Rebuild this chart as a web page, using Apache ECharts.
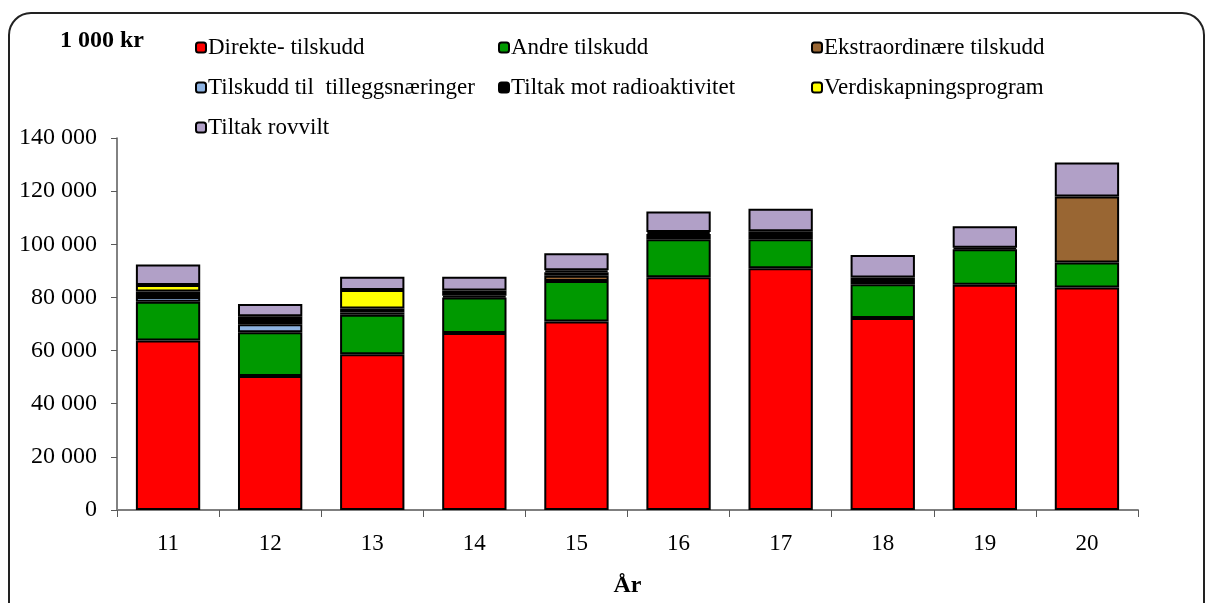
<!DOCTYPE html>
<html>
<head>
<meta charset="utf-8">
<script src="https://cdn.jsdelivr.net/npm/echarts@6/dist/echarts.min.js"></script>
<style>
  html, body { margin: 0; padding: 0; background: #fff; }
  #chart { width: 1209px; height: 603px; }
</style>
</head>
<body>
<div id="chart"></div>
<script>
// years (x axis)
const years = ['11', '12', '13', '14', '15', '16', '17', '18', '19', '20']

// values in 1 000 kr; null = no segment
const direkte      = [63800, 50400, 58600, 66600, 70900, 87600, 91000, 72300, 84800, 83700]
const andre        = [14600, 16500, 14900, 13400, 15300, 14300, 10900, 12700, 13300, 9400]
const ekstra       = [null, null, null, null, 2000, null, null, null, null, 24900]
const tillegg      = [1800, 3000, 800, 600, 1300, null, null, null, null, null]
const radio        = [2000, 3000, 1500, 2000, 700, 2000, 3000, 2500, 600, null]
const verdi        = [2500, null, 7000, null, null, 700, null, null, null, null]
const rovvilt      = [7700, 4600, 5000, 5200, 6400, 7700, 8500, 8500, 8100, 12800]

const yTicks = [0, 20000, 40000, 60000, 80000, 100000, 120000, 140000]

const font = '"Liberation Serif", "DejaVu Serif", serif'

function mk(name, data, color) {
  return {
    name: name,
    type: 'bar',
    stack: 'tot',
    data: data,
    barWidth: '63%',
    itemStyle: { color: color, borderColor: '#000', borderWidth: 2 },
    emphasis: { disabled: true }
  }
}

const legendText = { fontFamily: font, fontSize: 23, color: '#000', padding: [0, 0, 0, -3] }

const chart = echarts.init(document.getElementById('chart'))
chart.setOption({
  animation: false,
  backgroundColor: '#fff',
  textStyle: { fontFamily: font, color: '#000' },
  graphic: [
    {
      type: 'rect',
      shape: { x: 9, y: 13, width: 1195, height: 620, r: 22 },
      style: { fill: 'none', stroke: '#222', lineWidth: 2 }
    },
    {
      type: 'text',
      left: 60, top: 29,
      style: { text: '1 000 kr', font: 'bold 24px ' + font, fill: '#000' }
    }
  ],
  legend: [
    {
      orient: 'vertical', left: 190, top: 31, itemGap: 17,
      itemWidth: 10, itemHeight: 10,
      data: ['Direkte- tilskudd', 'Tilskudd til  tilleggsnæringer', 'Tiltak rovvilt'],
      textStyle: legendText
    },
    {
      orient: 'vertical', left: 493, top: 31, itemGap: 17,
      itemWidth: 10, itemHeight: 10,
      data: ['Andre tilskudd', 'Tiltak mot radioaktivitet'],
      textStyle: legendText
    },
    {
      orient: 'vertical', left: 806, top: 31, itemGap: 17,
      itemWidth: 10, itemHeight: 10,
      data: ['Ekstraordinære tilskudd', 'Verdiskapningsprogram'],
      textStyle: legendText
    }
  ],
  grid: { left: 117, right: 71, top: 138, bottom: 89, containLabel: false },
  xAxis: {
    type: 'category',
    data: years,
    name: 'År',
    nameLocation: 'middle',
    nameGap: 64,
    nameTextStyle: { fontFamily: font, fontSize: 24, fontWeight: 'bold', color: '#000' },
    axisLine: { lineStyle: { color: '#7f7f7f', width: 2 } },
    axisTick: { show: true, length: 7, alignWithLabel: false, lineStyle: { color: '#595959' } },
    axisLabel: { fontFamily: font, fontSize: 23, color: '#000', margin: 22 }
  },
  yAxis: {
    type: 'value',
    min: 0, max: 140000, interval: 20000,
    axisLine: { show: true, lineStyle: { color: '#595959', width: 1.5 } },
    axisTick: { show: true, length: 6, lineStyle: { color: '#595959' } },
    splitLine: { show: false },
    axisLabel: {
      fontFamily: font, fontSize: 24, color: '#000', margin: 20,
      formatter: v => yTicks.includes(v) ? String(v).replace(/\B(?=(\d{3})+(?!\d))/g, ' ') : ''
    }
  },
  series: [
    mk('Direkte- tilskudd', direkte, '#ff0000'),
    mk('Andre tilskudd', andre, '#009900'),
    mk('Ekstraordinære tilskudd', ekstra, '#996633'),
    mk('Tilskudd til  tilleggsnæringer', tillegg, '#8db3e2'),
    mk('Tiltak mot radioaktivitet', radio, '#000000'),
    mk('Verdiskapningsprogram', verdi, '#ffff00'),
    mk('Tiltak rovvilt', rovvilt, '#b1a0c7')
  ]
})
</script>
</body>
</html>
